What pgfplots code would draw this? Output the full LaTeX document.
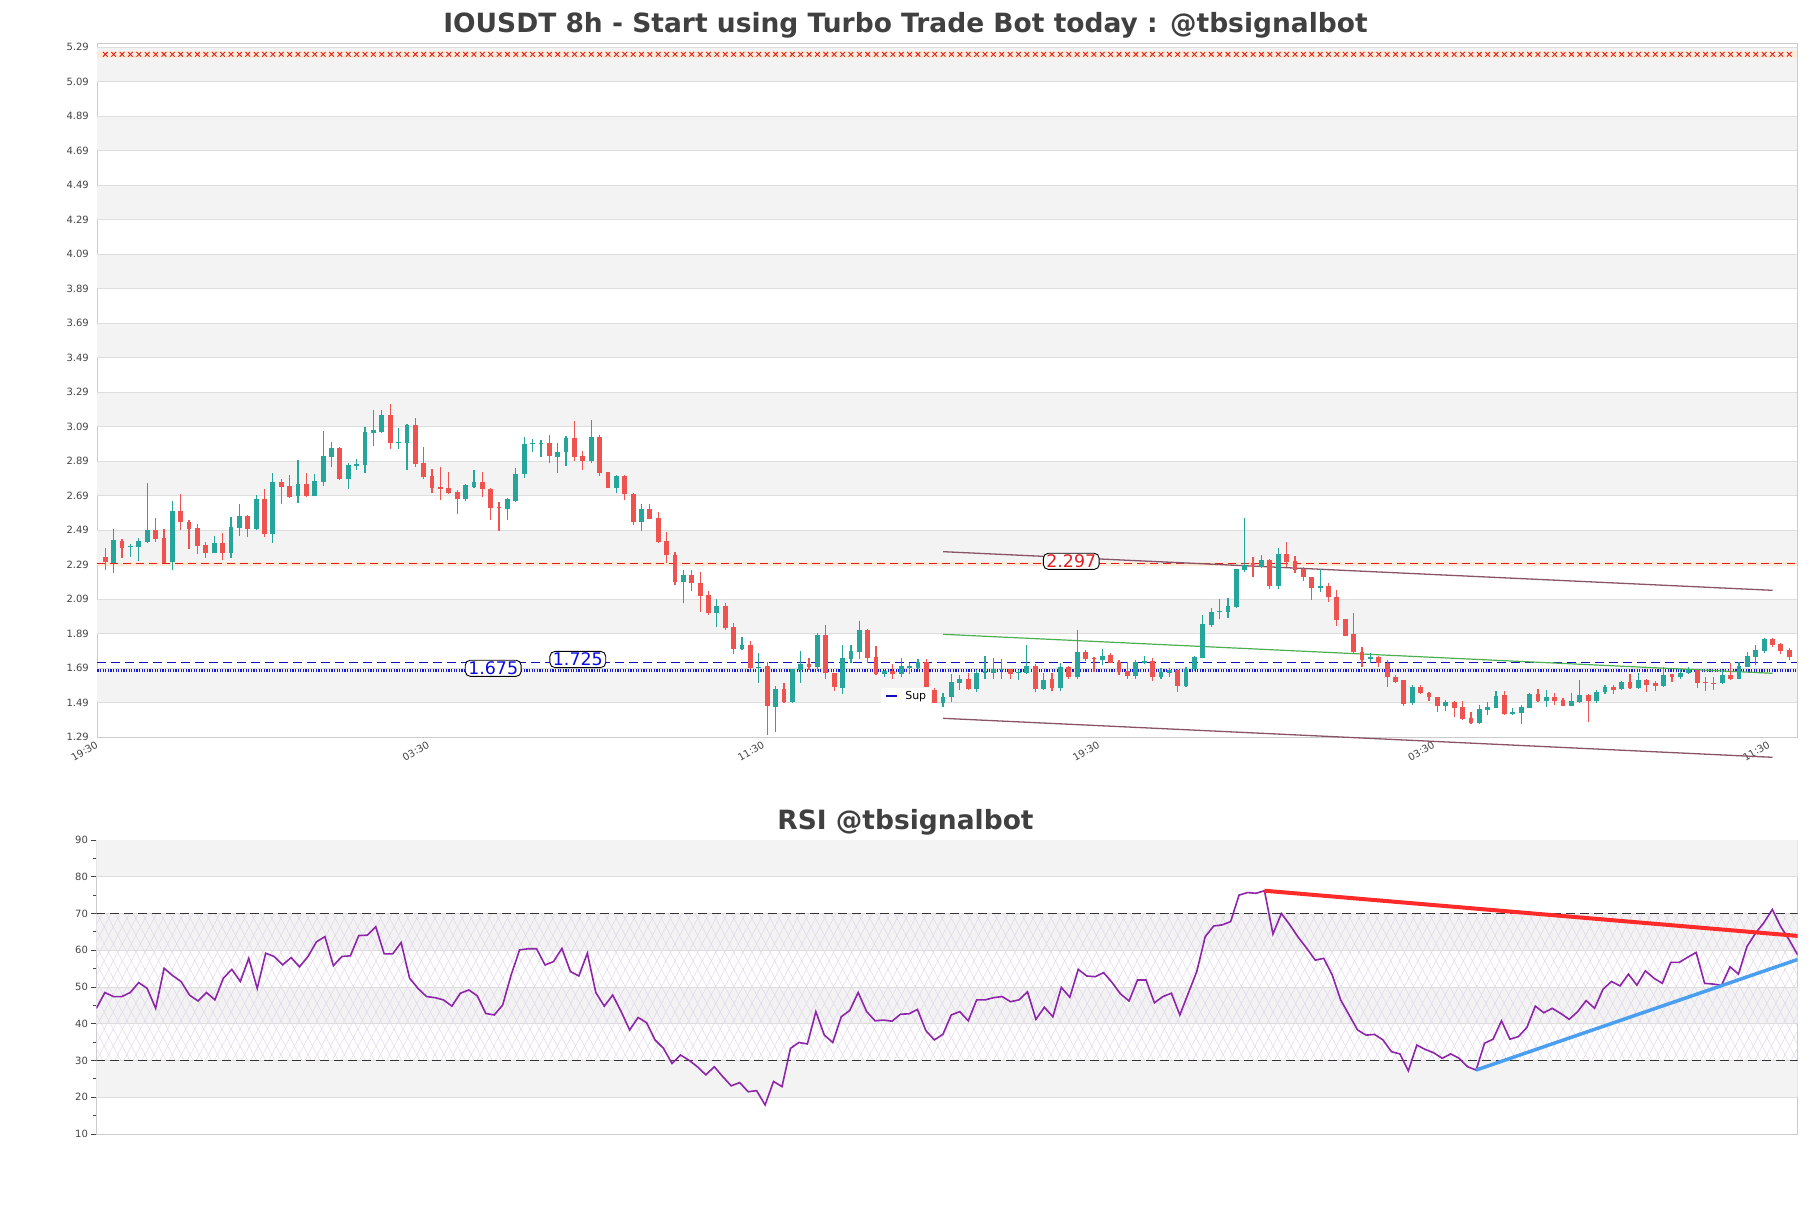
\documentclass[border=0pt]{standalone}
\usepackage{pgfplots}
\pgfplotsset{compat=1.18}
\usepackage{pgfplotstable}
\usepackage{fontspec}
\setmainfont{DejaVu Sans}
\usetikzlibrary{patterns.meta}
\definecolor{cgreen}{HTML}{26A69A}
\definecolor{cred}{HTML}{EF5350}
\definecolor{band}{HTML}{F3F3F3}
\definecolor{gridc}{HTML}{DDDDDD}
\definecolor{axisc}{HTML}{CCCCCC}
\definecolor{txt}{HTML}{404040}
\definecolor{ticktxt}{HTML}{444444}
\definecolor{rsiline}{HTML}{8E24AA}
\definecolor{chan}{HTML}{8A5468}
\definecolor{midg}{HTML}{4CAF50}
\definecolor{hatchc}{HTML}{E0D6EA}
\definecolor{resred}{HTML}{E02020}
\definecolor{supnavy}{HTML}{1010B8}
\definecolor{supblue}{HTML}{1A1AD0}
\definecolor{lblblue}{HTML}{0A0AE6}
\definecolor{trendred}{HTML}{FF2A2A}
\definecolor{trendblue}{HTML}{4A9FF0}
\definecolor{paleband}{HTML}{FDEBD8}

\pgfplotstableread{
i o h l c
0 2.337 2.388 2.260 2.308
1 2.303 2.498 2.245 2.434
2 2.428 2.440 2.332 2.390
3 2.393 2.411 2.337 2.399
4 2.395 2.446 2.314 2.428
5 2.420 2.764 2.415 2.492
6 2.492 2.561 2.424 2.442
7 2.446 2.498 2.299 2.303
8 2.308 2.660 2.260 2.602
9 2.602 2.701 2.492 2.536
10 2.538 2.550 2.384 2.496
11 2.504 2.525 2.351 2.401
12 2.405 2.424 2.328 2.361
13 2.361 2.457 2.357 2.415
14 2.415 2.473 2.318 2.361
15 2.361 2.567 2.328 2.509
16 2.505 2.641 2.457 2.573
17 2.573 2.579 2.453 2.500
18 2.496 2.695 2.492 2.672
19 2.672 2.728 2.453 2.469
20 2.469 2.822 2.418 2.770
21 2.770 2.786 2.643 2.743
22 2.747 2.811 2.679 2.685
23 2.689 2.898 2.650 2.759
24 2.759 2.822 2.685 2.689
25 2.689 2.815 2.689 2.776
26 2.772 3.066 2.747 2.921
27 2.917 3.002 2.857 2.967
28 2.967 2.971 2.782 2.786
29 2.788 2.882 2.730 2.869
30 2.863 2.904 2.840 2.875
31 2.869 3.087 2.824 3.060
32 3.056 3.188 2.981 3.072
33 3.060 3.188 3.056 3.159
34 3.159 3.222 2.961 2.998
35 2.998 3.082 2.961 3.004
36 2.998 3.105 2.840 3.102
37 3.100 3.139 2.857 2.875
38 2.882 2.971 2.788 2.797
39 2.805 2.846 2.704 2.737
40 2.741 2.855 2.666 2.732
41 2.735 2.828 2.703 2.706
42 2.712 2.726 2.585 2.674
43 2.670 2.761 2.660 2.755
44 2.743 2.838 2.737 2.770
45 2.770 2.828 2.685 2.728
46 2.732 2.737 2.550 2.619
47 2.627 2.652 2.488 2.617
48 2.616 2.676 2.550 2.670
49 2.660 2.849 2.656 2.817
50 2.817 3.031 2.795 2.990
51 2.989 3.019 2.946 2.994
52 2.990 3.012 2.915 2.996
53 2.998 3.041 2.878 2.919
54 2.917 2.998 2.824 2.944
55 2.942 3.039 2.863 3.027
56 3.027 3.124 2.892 2.915
57 2.923 2.950 2.840 2.894
58 2.892 3.130 2.878 3.031
59 3.031 3.043 2.805 2.824
60 2.830 2.830 2.737 2.737
61 2.737 2.813 2.704 2.805
62 2.805 2.811 2.666 2.699
63 2.701 2.704 2.521 2.538
64 2.540 2.641 2.488 2.614
65 2.614 2.641 2.554 2.558
66 2.561 2.598 2.418 2.422
67 2.428 2.480 2.303 2.345
68 2.347 2.362 2.173 2.192
69 2.192 2.258 2.071 2.229
70 2.231 2.258 2.140 2.183
71 2.183 2.250 2.019 2.111
72 2.115 2.136 2.000 2.009
73 2.013 2.090 1.932 2.051
74 2.051 2.067 1.912 1.926
75 1.928 1.951 1.771 1.804
76 1.802 1.872 1.794 1.823
77 1.823 1.847 1.688 1.694
78 1.692 1.777 1.607 1.700
79 1.704 1.729 1.304 1.474
80 1.468 1.586 1.319 1.570
81 1.570 1.603 1.487 1.497
82 1.497 1.688 1.491 1.684
83 1.680 1.789 1.607 1.715
84 1.713 1.752 1.680 1.698
85 1.698 1.893 1.674 1.883
86 1.883 1.941 1.626 1.661
87 1.661 1.665 1.561 1.584
88 1.578 1.823 1.539 1.750
89 1.746 1.823 1.719 1.790
90 1.787 1.966 1.746 1.912
91 1.912 1.916 1.723 1.752
92 1.756 1.819 1.649 1.655
93 1.659 1.680 1.642 1.675
94 1.675 1.715 1.630 1.657
95 1.659 1.752 1.642 1.704
96 1.690 1.721 1.657 1.702
97 1.690 1.742 1.688 1.729
98 1.729 1.742 1.580 1.584
99 1.565 1.575 1.490 1.491
100 1.487 1.549 1.468 1.526
101 1.522 1.657 1.497 1.611
102 1.607 1.651 1.564 1.630
103 1.630 1.665 1.562 1.572
104 1.572 1.680 1.551 1.665
105 1.665 1.759 1.630 1.675
106 1.665 1.752 1.630 1.684
107 1.680 1.742 1.630 1.686
108 1.684 1.684 1.626 1.659
109 1.661 1.680 1.622 1.669
110 1.665 1.823 1.659 1.704
111 1.704 1.715 1.551 1.570
112 1.570 1.665 1.564 1.622
113 1.626 1.665 1.558 1.574
114 1.578 1.723 1.558 1.700
115 1.700 1.704 1.630 1.638
116 1.642 1.912 1.630 1.785
117 1.785 1.796 1.734 1.746
118 1.752 1.758 1.671 1.742
119 1.736 1.804 1.709 1.761
120 1.765 1.781 1.719 1.723
121 1.727 1.738 1.649 1.671
122 1.675 1.727 1.630 1.646
123 1.646 1.736 1.630 1.729
124 1.723 1.760 1.713 1.733
125 1.733 1.752 1.619 1.638
126 1.638 1.694 1.630 1.671
127 1.665 1.694 1.642 1.680
128 1.680 1.684 1.555 1.590
129 1.590 1.700 1.580 1.684
130 1.684 1.763 1.676 1.758
131 1.752 1.997 1.748 1.946
132 1.941 2.038 1.932 2.017
133 2.017 2.090 1.974 2.025
134 2.017 2.096 1.980 2.051
135 2.044 2.266 2.038 2.266
136 2.260 2.560 2.250 2.289
137 2.299 2.334 2.221 2.289
138 2.279 2.347 2.274 2.318
139 2.318 2.322 2.150 2.169
140 2.169 2.386 2.150 2.353
141 2.353 2.420 2.279 2.306
142 2.310 2.343 2.245 2.258
143 2.266 2.279 2.198 2.217
144 2.217 2.221 2.086 2.157
145 2.157 2.268 2.130 2.167
146 2.167 2.186 2.075 2.102
147 2.102 2.144 1.937 1.970
148 1.974 1.974 1.879 1.879
149 1.887 2.011 1.777 1.785
150 1.787 1.816 1.700 1.738
151 1.742 1.781 1.719 1.758
152 1.758 1.762 1.700 1.723
153 1.723 1.738 1.584 1.638
154 1.642 1.651 1.603 1.609
155 1.622 1.622 1.472 1.483
156 1.487 1.593 1.477 1.584
157 1.584 1.593 1.541 1.545
158 1.545 1.555 1.503 1.522
159 1.522 1.526 1.435 1.474
160 1.474 1.507 1.445 1.493
161 1.493 1.501 1.410 1.462
162 1.464 1.501 1.390 1.396
163 1.400 1.437 1.365 1.371
164 1.371 1.477 1.365 1.452
165 1.450 1.493 1.420 1.466
166 1.458 1.559 1.458 1.530
167 1.535 1.559 1.417 1.423
168 1.425 1.458 1.417 1.435
169 1.433 1.477 1.365 1.466
170 1.462 1.549 1.458 1.541
171 1.539 1.568 1.497 1.501
172 1.503 1.564 1.468 1.522
173 1.524 1.549 1.478 1.499
174 1.506 1.516 1.470 1.474
175 1.474 1.549 1.470 1.499
176 1.497 1.625 1.491 1.536
177 1.536 1.541 1.378 1.503
178 1.501 1.564 1.487 1.555
179 1.555 1.596 1.541 1.584
180 1.584 1.596 1.539 1.564
181 1.570 1.619 1.564 1.609
182 1.609 1.657 1.570 1.574
183 1.574 1.665 1.570 1.622
184 1.622 1.630 1.555 1.593
185 1.603 1.619 1.559 1.587
186 1.587 1.700 1.584 1.651
187 1.655 1.657 1.613 1.642
188 1.642 1.684 1.630 1.661
189 1.661 1.700 1.657 1.680
190 1.680 1.684 1.578 1.603
191 1.607 1.642 1.559 1.603
192 1.605 1.642 1.564 1.597
193 1.603 1.680 1.599 1.651
194 1.651 1.723 1.622 1.630
195 1.630 1.729 1.626 1.704
196 1.700 1.787 1.696 1.764
197 1.758 1.823 1.709 1.796
198 1.793 1.864 1.781 1.858
199 1.860 1.868 1.816 1.825
200 1.829 1.835 1.775 1.790
201 1.796 1.806 1.738 1.758
}\candles

\pgfplotstableread{
i r
0 44.2
1 48.5
2 47.4
3 47.4
4 48.5
5 51.2
6 49.6
7 44.2
8 55.1
9 53.1
10 51.5
11 47.8
12 46.2
13 48.5
14 46.5
15 52.4
16 54.8
17 51.5
18 57.8
19 49.6
20 59.2
21 58.3
22 56.0
23 58.0
24 55.5
25 58.3
26 62.3
27 63.7
28 55.8
29 58.3
30 58.5
31 64.0
32 64.1
33 66.4
34 59.0
35 59.0
36 62.1
37 52.4
38 49.6
39 47.4
40 47.1
41 46.5
42 44.8
43 48.3
44 49.2
45 47.6
46 42.8
47 42.4
48 45.1
49 53.3
50 60.1
51 60.4
52 60.4
53 56.0
54 56.9
55 60.5
56 54.2
57 53.0
58 59.2
59 48.5
60 44.8
61 47.8
62 43.3
63 38.3
64 41.7
65 40.3
66 35.6
67 33.3
68 29.2
69 31.5
70 30.1
71 28.3
72 26.1
73 28.3
74 25.6
75 23.1
76 24.0
77 21.5
78 21.8
79 17.9
80 24.3
81 22.9
82 33.3
83 34.9
84 34.5
85 43.3
86 36.9
87 34.9
88 41.9
89 43.6
90 48.5
91 43.3
92 40.8
93 41.0
94 40.7
95 42.6
96 42.7
97 43.9
98 38.1
99 35.6
100 37.1
101 42.4
102 43.3
103 40.8
104 46.5
105 46.5
106 47.1
107 47.4
108 46.0
109 46.5
110 48.7
111 41.2
112 44.5
113 41.9
114 49.9
115 47.2
116 54.8
117 53.0
118 52.8
119 53.9
120 51.2
121 48.1
122 46.2
123 51.9
124 51.9
125 45.7
126 47.4
127 48.3
128 42.4
129 48.3
130 54.2
131 63.7
132 66.6
133 66.9
134 67.8
135 75.0
136 75.7
137 75.5
138 76.2
139 64.4
140 70.0
141 66.9
142 63.5
143 60.5
144 57.3
145 57.8
146 53.3
147 46.5
148 42.4
149 38.3
150 36.9
151 37.1
152 35.6
153 32.4
154 31.8
155 27.2
156 34.2
157 33.0
158 32.1
159 30.6
160 31.8
161 30.6
162 28.3
163 27.4
164 34.7
165 35.8
166 40.8
167 35.8
168 36.5
169 39.0
170 44.8
171 43.0
172 44.2
173 42.8
174 41.2
175 43.3
176 46.3
177 44.2
178 49.4
179 51.5
180 50.3
181 53.5
182 50.5
183 54.4
184 52.4
185 51.0
186 56.7
187 56.7
188 58.1
189 59.4
190 51.0
191 50.8
192 50.5
193 55.5
194 53.5
195 61.0
196 64.6
197 67.5
198 71.1
199 66.4
200 62.8
201 58.7
}\rsi

\begin{document}
\begin{tikzpicture}
\useasboundingbox (0pt,0pt) rectangle (1811pt,1208pt);
\node[font=\fontsize{26.5pt}{30pt}\selectfont\bfseries, text=txt] at (905.5pt,1183pt) {IOUSDT 8h - Start using Turbo Trade Bot today : @tbsignalbot};
\node[font=\fontsize{26.5pt}{30pt}\selectfont\bfseries, text=txt] at (905.5pt,386pt) {RSI @tbsignalbot};

% ---------- price axis ----------
\begin{axis}[
  at={(97.3pt,470.7pt)}, anchor=south west, scale only axis,
  width=1700pt, height=694pt,
  xmin=-0.955, xmax=201.96, ymin=1.29, ymax=5.313,
  clip=false,
  axis line style={draw=axisc, line width=1pt},
  major tick length=0pt,
  ytick={1.29,1.49,1.69,1.89,2.09,2.29,2.49,2.69,2.89,3.09,3.29,3.49,3.69,3.89,4.09,4.29,4.49,4.69,4.89,5.09,5.29},
  yticklabels={1.29,1.49,1.69,1.89,2.09,2.29,2.49,2.69,2.89,3.09,3.29,3.49,3.69,3.89,4.09,4.29,4.49,4.69,4.89,5.09,5.29},
  yticklabel style={font=\fontsize{10pt}{12pt}\selectfont, text=ticktxt, xshift=-5pt},
  xtick={-0.95,38.6,78.6,118.6,158.6,198.6},
  xticklabels={19:30,03:30,11:30,19:30,03:30,11:30},
  xticklabel style={font=\fontsize{10pt}{12pt}\selectfont, text=ticktxt, rotate=30, anchor=north east, yshift=2pt},
]
% bands
\fill[band] (axis cs:-0.955,5.09) rectangle (axis cs:201.96,5.29);
\fill[band] (axis cs:-0.955,4.69) rectangle (axis cs:201.96,4.89);
\fill[band] (axis cs:-0.955,4.29) rectangle (axis cs:201.96,4.49);
\fill[band] (axis cs:-0.955,3.89) rectangle (axis cs:201.96,4.09);
\fill[band] (axis cs:-0.955,3.49) rectangle (axis cs:201.96,3.69);
\fill[band] (axis cs:-0.955,3.09) rectangle (axis cs:201.96,3.29);
\fill[band] (axis cs:-0.955,2.69) rectangle (axis cs:201.96,2.89);
\fill[band] (axis cs:-0.955,2.29) rectangle (axis cs:201.96,2.49);
\fill[band] (axis cs:-0.955,1.89) rectangle (axis cs:201.96,2.09);
\fill[band] (axis cs:-0.955,1.49) rectangle (axis cs:201.96,1.69);
\pgfplotsinvokeforeach{1.49,1.69,1.89,2.09,2.29,2.49,2.69,2.89,3.09,3.29,3.49,3.69,3.89,4.09,4.29,4.49,4.69,4.89,5.09,5.29}{
  \draw[gridc, line width=1pt] (axis cs:-0.955,#1) -- (axis cs:201.96,#1);
}
% top marker row
\draw[paleband, line width=7pt] (axis cs:-0.955,5.249) -- (axis cs:201.96,5.249);
\addplot[only marks, mark=x, mark size=3.3pt, resred, mark options={line width=0.9pt}, forget plot]
  table[x=i, y expr=5.249] {\candles};
% horizontal levels
\draw[paleband, line width=4pt] (axis cs:-0.955,2.297) -- (axis cs:201.96,2.297);
\draw[resred, line width=1.6pt, dash pattern=on 8pt off 5pt] (axis cs:-0.955,2.297) -- (axis cs:201.96,2.297);
\draw[supnavy, line width=1.4pt, dash pattern=on 9pt off 5pt] (axis cs:-0.955,1.725) -- (axis cs:201.96,1.725);
\draw[supblue, line width=3pt, dash pattern=on 1.3pt off 1.3pt] (axis cs:-0.955,1.680) -- (axis cs:201.96,1.680);
% channel
\addplot[chan, line width=1.3pt, forget plot] coordinates {(100,2.366) (199,2.142)};
\addplot[chan, line width=1.3pt, forget plot] coordinates {(100,1.400) (199,1.174)};
\addplot[midg, line width=1.2pt, forget plot] coordinates {(100,1.887) (199,1.661)};
% wicks
\addplot[draw=none, mark=none, forget plot,
  restrict expr to domain={\thisrow{c}-\thisrow{o}}{0:10},
  error bars/.cd, y dir=plus, y explicit, error mark=none,
  error bar style={draw=cgreen, line width=1.2pt}]
  table[x=i, y=l, y error plus expr={\thisrow{h}-\thisrow{l}}] {\candles};
\addplot[draw=none, mark=none, forget plot,
  restrict expr to domain={\thisrow{c}-\thisrow{o}}{-10:-0.0000001},
  error bars/.cd, y dir=plus, y explicit, error mark=none,
  error bar style={draw=cred, line width=1.2pt}]
  table[x=i, y=l, y error plus expr={\thisrow{h}-\thisrow{l}}] {\candles};
% bodies
\addplot[draw=none, mark=none, forget plot,
  restrict expr to domain={\thisrow{c}-\thisrow{o}}{0:10},
  error bars/.cd, y dir=plus, y explicit, error mark=none,
  error bar style={draw=cgreen, line width=4.8pt}]
  table[x=i, y=o, y error plus expr={max(\thisrow{c}-\thisrow{o},0.006)}] {\candles};
\addplot[draw=none, mark=none, forget plot,
  restrict expr to domain={\thisrow{c}-\thisrow{o}}{-10:-0.0000001},
  error bars/.cd, y dir=plus, y explicit, error mark=none,
  error bar style={draw=cred, line width=4.8pt}]
  table[x=i, y=c, y error plus expr={max(\thisrow{o}-\thisrow{c},0.006)}] {\candles};
% labels
\node[draw=black, fill=white, rounded corners=5pt, line width=0.9pt, inner xsep=3pt, inner ysep=1.5pt,
  font=\fontsize{17.4pt}{18pt}\selectfont, text=resred] at (axis cs:115.3,2.310) {2.297};
\node[draw=black, fill=white, rounded corners=5pt, line width=0.9pt, inner xsep=3pt, inner ysep=1.5pt,
  font=\fontsize{17.4pt}{18pt}\selectfont, text=lblblue] at (axis cs:46.3,1.690) {1.675};
\node[draw=black, fill=white, rounded corners=5pt, line width=0.9pt, inner xsep=3pt, inner ysep=1.5pt,
  font=\fontsize{17.4pt}{18pt}\selectfont, text=lblblue] at (axis cs:56.4,1.741) {1.725};
\node[fill=white, inner xsep=5pt, inner ysep=3pt, font=\fontsize{11pt}{12pt}\selectfont]
  at (axis cs:95.6,1.526) {\textcolor{supnavy}{\rule[3pt]{11pt}{2pt}}\hspace{8pt}Sup};
\end{axis}

% ---------- RSI axis ----------
\begin{axis}[
  at={(96.4pt,74pt)}, anchor=south west, scale only axis,
  width=1701.3pt, height=294pt,
  xmin=0, xmax=201, ymin=10, ymax=90,
  axis line style={draw=axisc, line width=1pt},
  xtick=\empty,
  ytick={10,20,30,40,50,60,70,80,90},
  minor ytick={15,25,35,45,55,65,75,85},
  ytick pos=left,
  tick align=outside, major tick length=5pt, minor tick length=3pt,
  tick style={color=ticktxt, line width=0.8pt},
  yticklabel style={font=\fontsize{10pt}{12pt}\selectfont, text=ticktxt},
  /pgf/number format/assume math mode=true,
]
\fill[band] (axis cs:0,80) rectangle (axis cs:201,90);
\fill[band] (axis cs:0,60) rectangle (axis cs:201,70);
\fill[band] (axis cs:0,40) rectangle (axis cs:201,50);
\fill[band] (axis cs:0,20) rectangle (axis cs:201,30);
\fill[pattern={Lines[angle=62,distance=8pt,line width=0.5pt]}, pattern color=hatchc] (axis cs:0,30) rectangle (axis cs:201,70);
\fill[pattern={Lines[angle=-62,distance=8pt,line width=0.5pt]}, pattern color=hatchc] (axis cs:0,30) rectangle (axis cs:201,70);
\pgfplotsinvokeforeach{20,30,40,50,60,70,80}{
  \draw[gridc, line width=1pt] (axis cs:0,#1) -- (axis cs:201,#1);
}
\draw[black!80, line width=1.2pt, dash pattern=on 9pt off 5pt] (axis cs:0,70) -- (axis cs:201,70);
\draw[black!80, line width=1.2pt, dash pattern=on 9pt off 5pt] (axis cs:0,30) -- (axis cs:201,30);
\addplot[rsiline, line width=1.6pt, mark=none, forget plot] table[x=i, y=r] {\rsi};
\addplot[trendred, line width=4pt, forget plot] coordinates {(138,76.2) (201,63.9)};
\addplot[trendblue, line width=3.5pt, forget plot] coordinates {(163,27.4) (201,57.5)};
\end{axis}
\end{tikzpicture}
\end{document}
